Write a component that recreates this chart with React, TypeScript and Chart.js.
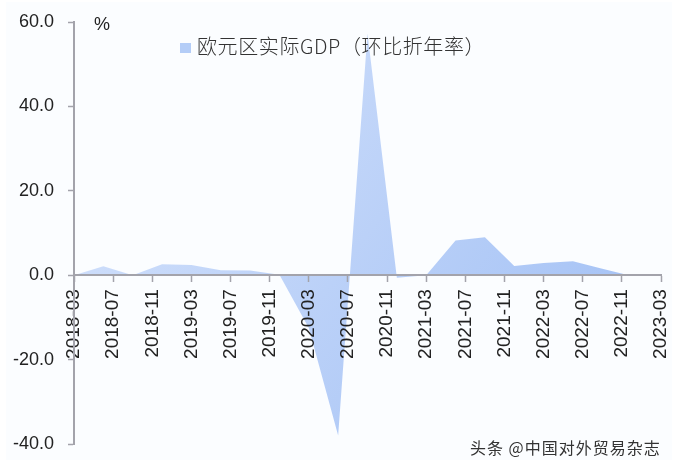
import { useEffect, useRef } from 'react';
import { Chart, registerables } from 'chart.js';

Chart.register(...registerables);

const START_YEAR = 2018;
const START_MONTH = 3;

// quarterly readings, YYYY-MM
const quarters = [
  '2018-03', '2018-06', '2018-09', '2018-12',
  '2019-03', '2019-06', '2019-09', '2019-12',
  '2020-03', '2020-06', '2020-09', '2020-12',
  '2021-03', '2021-06', '2021-09', '2021-12',
  '2022-03', '2022-06', '2022-09', '2022-12',
  '2023-03',
];
const gdpValues = [
  0.0, 2.1, 0.0, 2.6,
  2.4, 1.2, 1.1, 0.1,
  -12.5, -38.0, 57.3, -0.6,
  0.0, 8.2, 9.0, 2.2,
  2.9, 3.3, 1.5, -0.2,
  -0.1,
];
const legendLabel = '欧元区实际GDP（环比折年率）';
const unitLabel = '%';
const watermark = '头条 @中国对外贸易杂志';

const monthIndex = (q: string) => {
  const [y, m] = q.split('-').map(Number);
  return (y - START_YEAR) * 12 + (m - START_MONTH);
};

const monthLabel = (idx: number) => {
  const total = START_YEAR * 12 + (START_MONTH - 1) + idx;
  const y = Math.floor(total / 12);
  const m = (total % 12) + 1;
  return `${y}-${String(m).padStart(2, '0')}`;
};

const AXIS_COLOR = '#a3a3ab';
const TEXT_COLOR = '#222222';

export default function App() {
  const canvasRef = useRef<HTMLCanvasElement>(null);

  useEffect(() => {
    if (!canvasRef.current) return;

    const chart = new Chart(canvasRef.current, {
      type: 'line',
      data: {
        datasets: [
          {
            label: legendLabel,
            data: quarters.map((q, i) => ({ x: monthIndex(q), y: gdpValues[i] })),
            borderWidth: 0,
            pointRadius: 0,
            tension: 0,
            fill: 'origin',
            // light at the top left, stronger toward the bottom right
            backgroundColor: (c: any) => {
              const area = c.chart.chartArea;
              if (!area) return '#bcd2f8';
              const g = c.chart.ctx.createLinearGradient(area.left, area.top, area.right, area.bottom);
              g.addColorStop(0, '#d8e5fc');
              g.addColorStop(0.5, '#bbd1f8');
              g.addColorStop(1, '#9dbdf4');
              return g;
            },
          },
        ],
      },
      options: {
        animation: false,
        responsive: true,
        maintainAspectRatio: false,
        layout: { padding: { top: 22, right: 39, bottom: 18, left: 0 } },
        plugins: {
          legend: { display: false },
          tooltip: { enabled: false },
        },
        scales: {
          x: {
            type: 'linear',
            position: { y: 0 },
            min: 0,
            max: 60,
            border: { display: true, color: AXIS_COLOR, width: 2, z: 1 },
            grid: { drawOnChartArea: false, drawTicks: true, tickLength: 6, tickColor: AXIS_COLOR, tickWidth: 1.5, z: 1 },
            ticks: {
              z: 1,
              stepSize: 4,
              minRotation: 90,
              maxRotation: 90,
              autoSkip: false,
              padding: 8,
              color: TEXT_COLOR,
              font: { family: '"Liberation Sans"', size: 19 },
              callback: (v: any) => monthLabel(Number(v)),
            },
          },
          y: {
            min: -40,
            max: 60,
            afterFit: (scale: any) => {
              scale.width = 74;
              // tick padding would otherwise push the plot area in
              scale.paddingTop = 0;
              scale.paddingBottom = 0;
            },
            border: { display: true, color: AXIS_COLOR, width: 2, z: 1 },
            grid: { drawOnChartArea: false, drawTicks: true, tickLength: 6, tickColor: AXIS_COLOR, tickWidth: 1.5, z: 1 },
            ticks: {
              z: 1,
              stepSize: 20,
              padding: 14,
              color: TEXT_COLOR,
              font: { family: '"Liberation Sans"', size: 18 },
              callback: (v: any) => Number(v).toFixed(1),
            },
          },
        },
      },
    } as any);

    return () => chart.destroy();
  }, []);

  return (
    <div style={{ position: 'fixed', left: 0, top: 0, width: 700, height: 462, background: '#ffffff', overflow: 'hidden' }}>
      <div style={{ position: 'absolute', left: 6, top: 2, width: 666, height: 458, background: '#fbfdff' }} />
      <canvas ref={canvasRef} style={{ position: 'absolute', left: 0, top: 0 }} />
      <div style={{ position: 'absolute', left: 94, top: 14, font: '18px "Liberation Sans"', color: TEXT_COLOR }}>{unitLabel}</div>
      <div style={{ position: 'absolute', left: 180, top: 43, width: 11, height: 10, background: '#b4cdf7' }} />
      <div style={{ position: 'absolute', left: 197, top: 31, font: '300 20px "Noto Sans CJK SC"', letterSpacing: 0.6, color: '#333333', whiteSpace: 'nowrap' }}>
        {legendLabel}
      </div>
      <div style={{ position: 'absolute', left: 470, top: 435, font: '16px "Noto Sans CJK SC"', letterSpacing: 1, color: '#333333', whiteSpace: 'nowrap' }}>
        {watermark}
      </div>
    </div>
  );
}
